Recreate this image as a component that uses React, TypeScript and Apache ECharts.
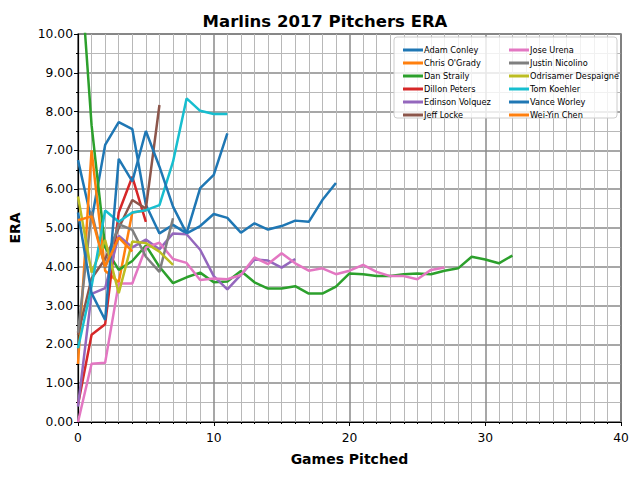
import React, { useEffect, useRef } from 'react';
import * as echarts from 'echarts';

// ERA after each game pitched (index = games pitched)
const adamConley = [6.75, 5.2, 7.14, 7.73, 7.55, 5.6, 4.86, 5.08, 4.86, 5.05, 5.36, 5.26, 4.88, 5.12, 4.96, 5.05, 5.19, 5.16, 5.72, 6.16];
const chrisOGrady = [1.5, 7.0, 3.9, 3.6, 5.4, 5.45];
const danStraily = [12.6, 7.65, 4.5, 3.92, 4.15, 4.55, 4.0, 3.58, 3.73, 3.85, 3.6, 3.62, 3.89, 3.6, 3.44, 3.44, 3.5, 3.31, 3.31, 3.49, 3.83, 3.81, 3.76, 3.76, 3.81, 3.83, 3.81, 3.9, 3.96, 4.26, 4.19, 4.09, 4.29];
const dillonPeters = [0.45, 2.25, 2.52, 5.4, 6.32, 5.16];
const edinsonVolquez = [0.4, 3.3, 3.45, 4.8, 4.5, 4.7, 4.45, 4.86, 4.84, 4.44, 3.76, 3.42, 3.79, 4.19, 4.16, 3.98, 4.2];
const jeffLocke = [2.25, 3.7, 4.2, 5.0, 5.72, 5.5, 8.17];
const joseUrena = [0, 1.5, 1.53, 3.57, 3.57, 4.5, 4.62, 4.2, 4.1, 3.66, 3.7, 3.68, 3.79, 4.24, 4.07, 4.35, 4.09, 3.9, 3.96, 3.81, 3.9, 4.05, 3.87, 3.76, 3.76, 3.68, 3.92, 3.98];
const justinNicolino = [2.3, 5.42, 3.97, 5.1, 4.95, 4.26, 3.87, 5.25];
const odrisamerDespaigne = [5.81, 3.85, 4.69, 3.32, 4.65, 4.61, 4.39, 4.05];
const tomKoehler = [1.9, 3.5, 5.45, 5.16, 5.4, 5.46, 5.59, 6.71, 8.34, 8.02, 7.94, 7.94];
const vanceWorley = [5.4, 3.32, 2.63, 6.78, 6.2, 7.5, 6.58, 5.55, 4.86, 6.03, 6.37, 7.44];
const weiYinChen = [5.2, 5.3, 4.0, 4.75, 4.4];

const pitchers: [string, number[], string][] = [
  ['Adam Conley', adamConley, '#1f77b4'],
  ["Chris O'Grady", chrisOGrady, '#ff7f0e'],
  ['Dan Straily', danStraily, '#2ca02c'],
  ['Dillon Peters', dillonPeters, '#d62728'],
  ['Edinson Volquez', edinsonVolquez, '#9467bd'],
  ['Jeff Locke', jeffLocke, '#8c564b'],
  ['Jose Urena', joseUrena, '#e377c2'],
  ['Justin Nicolino', justinNicolino, '#7f7f7f'],
  ['Odrisamer Despaigne', odrisamerDespaigne, '#bcbd22'],
  ['Tom Koehler', tomKoehler, '#17becf'],
  ['Vance Worley', vanceWorley, '#1f77b4'],
  ['Wei-Yin Chen', weiYinChen, '#ff7f0e'],
];

const font = 'DejaVu Sans';

const App: React.FC = () => {
  const chartRef = useRef<HTMLDivElement>(null);

  useEffect(() => {
    if (!chartRef.current) return;
    const chart = echarts.init(chartRef.current, undefined, { renderer: 'svg' });

    const names = pitchers.map((p) => p[0]);
    const legendCommon = {
      orient: 'vertical',
      icon: 'rect',
      itemWidth: 20,
      itemHeight: 3,
      itemGap: 3,
      selectedMode: false,
      textStyle: { fontFamily: font, fontSize: 8.2, color: '#000', lineHeight: 10, padding: [0, 0, 0, -4] },
    };

    chart.setOption({
      animation: false,
      backgroundColor: '#fff',
      title: {
        text: 'Marlins 2017 Pitchers ERA',
        left: 320,
        top: 8,
        textAlign: 'center',
        textStyle: { fontFamily: font, fontSize: 16.5, fontWeight: 'bold', color: '#000' },
      },
      graphic: [
        {
          type: 'rect',
          shape: { x: 394, y: 37, width: 223, height: 81, r: 3 },
          style: { fill: 'rgba(255,255,255,0.8)', stroke: '#cccccc', lineWidth: 1 },
          z: 10,
        },
      ],
      legend: [
        { ...legendCommon, data: names.slice(0, 6), left: 398, top: 40, z: 11 },
        { ...legendCommon, data: names.slice(6), left: 504, top: 40, z: 11 },
      ],
      grid: {
        left: 77,
        right: 19,
        top: 34,
        bottom: 58,
        show: true,
        borderColor: '#000',
        borderWidth: 1.2,
        backgroundColor: 'transparent',
      },
      xAxis: {
        type: 'value',
        min: 0,
        max: 40,
        interval: 10,
        name: 'Games Pitched',
        nameLocation: 'middle',
        nameGap: 30,
        nameTextStyle: { fontFamily: font, fontSize: 14, fontWeight: 'bold', color: '#000' },
        axisLine: { show: true, lineStyle: { color: '#000', width: 1.2 } },
        axisTick: { show: true, length: 4, lineStyle: { color: '#000' } },
        minorTick: { show: true, splitNumber: 10, length: 2, lineStyle: { color: '#000' } },
        axisLabel: { fontFamily: font, fontSize: 12.3, color: '#000', margin: 10 },
        splitLine: { show: true, lineStyle: { color: '#8a8a8a', width: 1.5 } },
        minorSplitLine: { show: true, lineStyle: { color: '#b8b8b8', width: 1 } },
      },
      yAxis: {
        type: 'value',
        min: 0,
        max: 10,
        interval: 1,
        name: 'ERA',
        nameLocation: 'middle',
        nameGap: 56,
        nameTextStyle: { fontFamily: font, fontSize: 14, fontWeight: 'bold', color: '#000' },
        axisLine: { show: true, lineStyle: { color: '#000', width: 1.2 } },
        axisTick: { show: true, length: 4, lineStyle: { color: '#000' } },
        minorTick: { show: true, splitNumber: 2, length: 2, lineStyle: { color: '#000' } },
        axisLabel: {
          fontFamily: font,
          fontSize: 12.3,
          color: '#000',
          margin: 5,
          formatter: (v: number) => v.toFixed(2),
        },
        splitLine: { show: true, lineStyle: { color: '#8a8a8a', width: 1.5 } },
        minorSplitLine: { show: true, lineStyle: { color: '#b8b8b8', width: 1 } },
      },
      series: pitchers.map(([name, values, color]) => ({
        name,
        type: 'line',
        data: values.map((v, i) => [i, v]),
        showSymbol: false,
        symbol: 'none',
        clip: true,
        color,
        lineStyle: { color, width: 2.5 },
        emphasis: { disabled: true },
      })),
    });

    return () => {
      chart.dispose();
    };
  }, []);

  return <div ref={chartRef} style={{ width: 640, height: 480, margin: -8 }} />;
};

export default App;
